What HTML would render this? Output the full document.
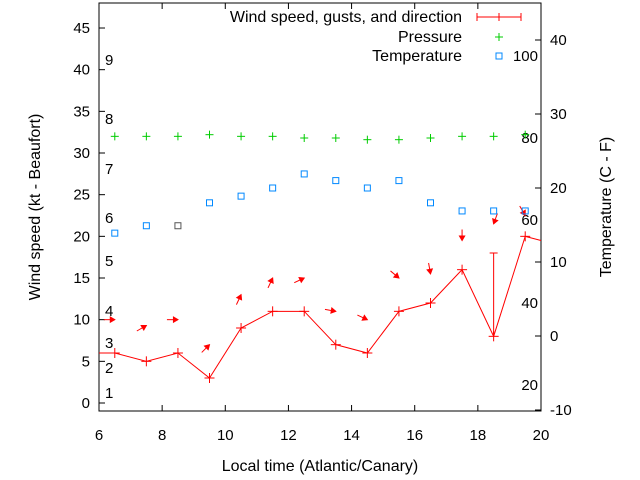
<!DOCTYPE html>
<html><head><meta charset="utf-8"><style>
body{margin:0;background:#fff}
svg{display:block;font-family:"Liberation Sans",sans-serif;font-size:15px}
</style></head><body>
<svg id="c" width="640" height="480" xmlns="http://www.w3.org/2000/svg"></svg>
<script>
const hours=[6.5,7.5,8.5,9.5,10.5,11.5,12.5,13.5,14.5,15.5,16.5,17.5,18.5,19.5];
const wind=[6,5,6,3,9,11,11,7,6,11,12,16,8,20];
const gust=[null,null,null,null,null,null,null,null,null,null,null,null,18,null];
const pressure=[32,32,32,32.2,32,32,31.8,31.8,31.6,31.6,31.8,32,32,32.2];
const temp=[13.9,14.9,14.9,18,18.9,20,21.9,21,20,21,18,16.9,16.9,16.9];
const arrowY=[10,9.3,10,7,13,15,15,11,10,15,15.5,19.5,21.5,22.5];
const arrowDeg=[0,-30,0,-45,-65,-65,-25,10,25,40,80,90,110,60];
const xTicks=[6,8,10,12,14,16,18,20];
const yTicks=[0,5,10,15,20,25,30,35,40,45];
const y2Ticks=[-10,0,10,20,30,40];
const beaufort=[[1,393],[2,368],[3,343],[4,311],[5,261],[6,218],[7,169],[8,119],[9,60]];
const fahr=[[20,385],[40,303],[60,220],[80,138],[100,56]];
const L=99,R=541,T=3,B=411;
const X=h=>L+(h-6)/14*(R-L);
const Y=v=>403-v*8.333;
const Y2=t=>410-(t+10)*7.4;
const svg=document.getElementById('c');
const NS='http://www.w3.org/2000/svg';
function el(tag,attrs,parent){const e=document.createElementNS(NS,tag);for(const k in attrs)e.setAttribute(k,attrs[k]);(parent||svg).appendChild(e);return e;}
function txt(s,x,y,anchor,extra){const t=el('text',Object.assign({x:x,y:y,'text-anchor':anchor||'middle',fill:'#000'},extra||{}));t.textContent=s;return t;}
const fr=el('rect',{x:L,y:T,width:R-L,height:B-T,fill:'none',stroke:'#000','stroke-width':1});

xTicks.forEach(h=>{el('line',{x1:X(h),x2:X(h),y1:B,y2:B-6,stroke:'#000'});el('line',{x1:X(h),x2:X(h),y1:T,y2:T+6,stroke:'#000'});
 const t=txt(String(h),X(h),440);});
yTicks.forEach(v=>{el('line',{x1:L,x2:L+6,y1:Y(v),y2:Y(v),stroke:'#000'});
 const t=txt(String(v),90,Y(v)+5,'end');});
y2Ticks.forEach(v=>{el('line',{x1:R,x2:R-6,y1:Y2(v),y2:Y2(v),stroke:'#000'});
 const t=txt(String(v),550,Y2(v)+5,'start');});
beaufort.forEach(([b,y])=>{const t=txt(String(b),105,y+5,'start');});
fahr.forEach(([f,y])=>{const t=txt(String(f),538,y+5,'end');});
let t=txt('Local time (Atlantic/Canary)',320,471,'middle',{'font-size':'16px'});
t=txt('Wind speed (kt - Beaufort)',0,0,'middle',{transform:'translate(40,207) rotate(-90)','font-size':'16px'});
t=txt('Temperature (C - F)',0,0,'middle',{transform:'translate(611,207) rotate(-90)','font-size':'16px'});
let pts=[[L,Y(wind[0])]].concat(hours.map((h,i)=>[X(h),Y(wind[i])]));pts.push([R,Y(19.5)]);
const wl=el('polyline',{points:pts.map(p=>p.join(',')).join(' '),fill:'none',stroke:'#f00','stroke-width':1});

hours.forEach((h,i)=>{const g=el('g',{stroke:'#f00','stroke-width':1});
 const x=X(h),y=Y(wind[i]);el('line',{x1:x-5,x2:x+5,y1:y,y2:y},g);el('line',{x1:x,x2:x,y1:y-5,y2:y+5},g);
 if(gust[i]!=null){el('line',{x1:x,x2:x,y1:y,y2:Y(gust[i])},g);el('line',{x1:x-4,x2:x+4,y1:Y(gust[i]),y2:Y(gust[i])},g);}});
hours.forEach((h,i)=>{const g=el('g',{transform:`translate(${X(h)},${Y(arrowY[i])}) rotate(${arrowDeg[i]})`});
 
 el('line',{x1:-11,y1:0,x2:0,y2:0,stroke:'#f00','stroke-width':1},g);
 el('polygon',{points:'1,0 -5,-3.5 -5,3.5',fill:'#f00'},g);});
hours.forEach((h,i)=>{const g=el('g',{stroke:'#0c0','stroke-width':1});
 const x=X(h),y=Y(pressure[i]);el('line',{x1:x-4,x2:x+4,y1:y,y2:y},g);el('line',{x1:x,x2:x,y1:y-4,y2:y+4},g);});
hours.forEach((h,i)=>{const r=el('rect',{x:X(h)-3,y:Y2(temp[i])-3,width:6,height:6,fill:'none',stroke:i==2?'#555':'#08f','stroke-width':1});
 });
t=txt('Wind speed, gusts, and direction',462,22,'end',{'font-size':'16px'});
el('line',{x1:477,x2:521,y1:17,y2:17,stroke:'#f00'});el('line',{x1:477,x2:477,y1:13,y2:21,stroke:'#f00'});el('line',{x1:521,x2:521,y1:13,y2:21,stroke:'#f00'});el('line',{x1:499,x2:499,y1:13,y2:21,stroke:'#f00'});
t=txt('Pressure',462,42,'end',{'font-size':'16px'});
el('line',{x1:495,x2:503,y1:37,y2:37,stroke:'#0c0'});el('line',{x1:499,x2:499,y1:33,y2:41,stroke:'#0c0'});
t=txt('Temperature',462,61,'end',{'font-size':'16px'});
el('rect',{x:496,y:53,width:6,height:6,fill:'none',stroke:'#08f'});
</script>
</body></html>
